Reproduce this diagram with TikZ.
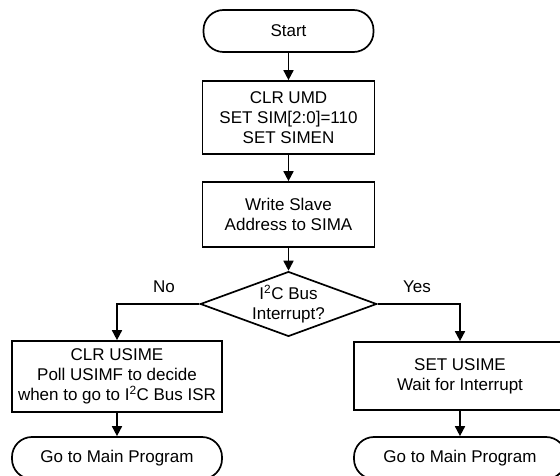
\documentclass[tikz,border=0pt]{standalone}
\usepackage{fontspec}
\setmainfont{Liberation Sans}
\usetikzlibrary{shapes.geometric,arrows.meta}
\begin{document}
\begin{tikzpicture}[x=1pt,y=-1pt,
  every node/.style={font=\fontsize{17}{20}\selectfont, align=center, inner sep=0pt},
  term/.style={draw, line width=1.7pt, rounded corners=20pt, minimum width=#1, minimum height=42pt},
  proc/.style={draw, line width=1.7pt, minimum width=#1},
  dec/.style={draw, line width=1.7pt, diamond, aspect=2.72, minimum width=169pt, minimum height=62pt, inner sep=0pt},
  conn/.style={line width=1.7pt, -{Triangle[length=10pt,width=10pt]}},
  lab/.style={font=\fontsize{17}{20}\selectfont}]
\useasboundingbox (0,0) rectangle (560,476);
\node[term=170pt] (start) at (288.5,31) {Start};
\node[proc=172pt, minimum height=73pt] (b1) at (288.5,117.5) {CLR UMD\\SET SIM[2:0]=110\\SET SIMEN};
\node[proc=172pt, minimum height=65pt] (b2) at (288.5,214.5) {Write Slave\\Address to SIMA};
\node[dec] (d) at (288.5,304) {I\textsuperscript{2}C Bus\\Interrupt?};
\node[proc=210pt, minimum height=71pt] (lb) at (117,376.5) {CLR USIME\\Poll USIMF to decide\\when to go to I\textsuperscript{2}C Bus ISR};
\node[term=210pt] (lt) at (117,458) {Go to Main Program};
\node[proc=212pt, minimum height=68pt] (rb) at (460,376) {SET USIME\\Wait for Interrupt};
\node[term=212pt] (rt) at (460,458) {Go to Main Program};
\coordinate (lc) at (117,304);
\coordinate (rc) at (460,304);
\node[lab] (no) at (164,287) {No};
\node[lab] (yes) at (417,287) {Yes};
\draw[conn] (start) -- (b1);
\draw[conn] (b1) -- (b2);
\draw[conn] (b2) -- (d);
\draw[conn] (d.west) -- (lc) -- (lb.north);
\draw[conn] (d.east) -- (rc) -- (rb.north);
\draw[conn] (lb) -- (lt);
\draw[conn] (rb) -- (rt);
\end{tikzpicture}
\end{document}
